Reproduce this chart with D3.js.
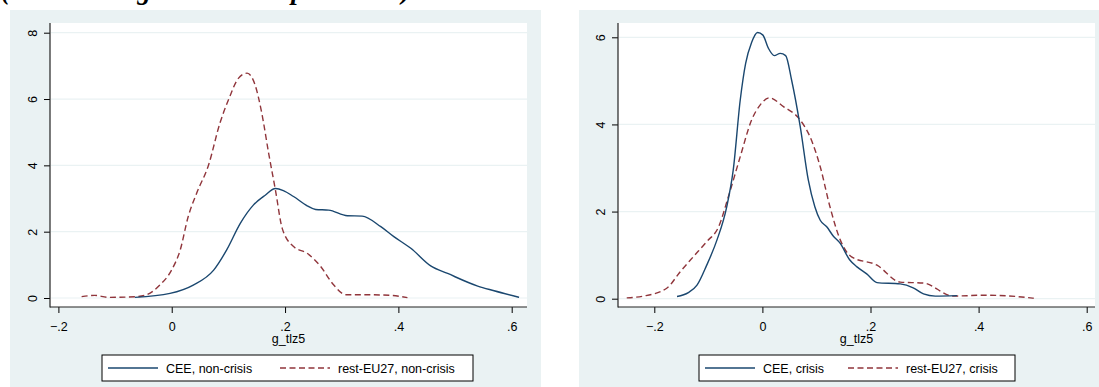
<!DOCTYPE html>
<html>
<head>
<meta charset="utf-8">
<script src="https://cdn.jsdelivr.net/npm/d3@7"></script>
<style>
  body { margin: 0; background: #fff; }
  svg { display: block; }
  text { font-family: "Liberation Sans", Arial, sans-serif; }
  text.caption { font-family: "Liberation Serif", "Times New Roman", serif; }
</style>
</head>
<body>
<main></main>
<script>
const w = 1099;
const h = 387;

// tick labels
const xTicks = [-0.2, 0, 0.2, 0.4, 0.6];
const yTicksLeft = [0, 2, 4, 6, 8];
const yTicksRight = [0, 2, 4, 6];
const xTitle = "g_tlz5";

// left panel: non-crisis
const leftCeeX = [-0.065, -0.003, 0.038, 0.074, 0.097, 0.121, 0.144, 0.165, 0.183, 0.197, 0.215, 0.239, 0.254, 0.277, 0.31, 0.336, 0.369, 0.392, 0.422, 0.457, 0.487, 0.54, 0.569, 0.613];
const leftCeeY = [0.02, 0.14, 0.39, 0.84, 1.45, 2.25, 2.8, 3.1, 3.3, 3.24, 3.06, 2.78, 2.67, 2.65, 2.48, 2.47, 2.15, 1.85, 1.5, 0.97, 0.74, 0.36, 0.22, 0.02];
const leftRestX = [-0.159, -0.136, -0.112, -0.062, -0.044, -0.021, 0.0, 0.015, 0.029, 0.044, 0.065, 0.085, 0.1, 0.118, 0.133, 0.147, 0.159, 0.171, 0.183, 0.195, 0.215, 0.239, 0.262, 0.286, 0.307, 0.333, 0.386, 0.416];
const leftRestY = [0.04, 0.08, 0.02, 0.04, 0.1, 0.39, 0.85, 1.45, 2.45, 3.16, 4.01, 5.27, 5.97, 6.63, 6.78, 6.43, 5.57, 4.37, 3.26, 2.1, 1.55, 1.35, 0.97, 0.39, 0.1, 0.1, 0.08, 0.01];

// right panel: crisis
const rightCeeX = [-0.158, -0.137, -0.121, -0.103, -0.084, -0.066, -0.054, -0.041, -0.031, -0.02, -0.009, 0.001, 0.011, 0.022, 0.033, 0.043, 0.054, 0.07, 0.085, 0.097, 0.107, 0.119, 0.131, 0.144, 0.161, 0.175, 0.193, 0.212, 0.255, 0.279, 0.298, 0.32, 0.36];
const rightCeeY = [0.05, 0.14, 0.31, 0.77, 1.35, 2.11, 2.95, 4.56, 5.4, 5.88, 6.11, 6.05, 5.75, 5.58, 5.63, 5.58, 5.02, 3.95, 2.72, 2.11, 1.8, 1.65, 1.44, 1.27, 0.9, 0.73, 0.57, 0.37, 0.34, 0.25, 0.11, 0.06, 0.07];
const rightRestX = [-0.251, -0.22, -0.177, -0.152, -0.128, -0.103, -0.081, -0.063, -0.041, -0.02, -0.004, 0.013, 0.039, 0.07, 0.088, 0.107, 0.125, 0.144, 0.165, 0.212, 0.255, 0.298, 0.353, 0.409, 0.47, 0.502];
const rightRestY = [0.02, 0.06, 0.24, 0.62, 0.96, 1.31, 1.65, 2.34, 3.26, 4.1, 4.45, 4.61, 4.41, 4.1, 3.72, 3.03, 2.11, 1.35, 0.96, 0.77, 0.38, 0.36, 0.06, 0.08, 0.05, 0.01];

const leftLabels = ["CEE, non-crisis", "rest-EU27, non-crisis"];
const rightLabels = ["CEE, crisis", "rest-EU27, crisis"];

const blue = "#1a476f";
const red = "#90353b";
const bg = "#eaf2f3";

const svg = d3.select("main")
    .append("svg")
    .attr("width", w)
    .attr("height", h);

// caption cut off at the top of the page (only descenders show)
svg.append("text")
    .attr("class", "caption")
    .attr("x", 1)
    .attr("y", -1)
    .attr("font-style", "italic")
    .attr("font-weight", "bold")
    .attr("font-size", 27)
    .text("(Real credit growth at the peak level)");

const fmtX = d => d === 0 ? "0" : d3.format(".1f")(d).replace("0.", ".");
const fmtY = d3.format("d");

function drawPanel(p) {
    const g = svg.append("g");

    g.append("rect")
        .attr("x", p.bx).attr("y", 10)
        .attr("width", p.bw).attr("height", h)
        .attr("fill", bg);

    g.append("rect")
        .attr("x", p.left).attr("y", 23)
        .attr("width", p.right - p.left).attr("height", 307 - 23)
        .attr("fill", "#fff");

    const xScale = d3.scaleLinear()
        .domain([-0.2, 0.6])
        .range([p.x0, p.x1]);

    const yScale = d3.scaleLinear()
        .domain([0, p.yMax])
        .range([p.y0, p.y1]);

    // grid
    g.selectAll(".grid")
        .data(p.yTicks)
        .enter()
        .append("line")
        .attr("x1", p.left + 1)
        .attr("x2", p.right)
        .attr("y1", d => yScale(d))
        .attr("y2", d => yScale(d))
        .attr("stroke", bg)
        .attr("stroke-width", 1.2);

    const line = d3.line()
        .x(d => xScale(d[0]))
        .y(d => yScale(d[1]))
        .curve(d3.curveMonotoneX);

    g.append("path")
        .datum(d3.zip(p.restX, p.restY))
        .attr("d", line)
        .attr("fill", "none")
        .attr("stroke", red)
        .attr("stroke-width", 1.4)
        .attr("stroke-dasharray", "6,3.5");

    g.append("path")
        .datum(d3.zip(p.ceeX, p.ceeY))
        .attr("d", line)
        .attr("fill", "none")
        .attr("stroke", blue)
        .attr("stroke-width", 1.4);

    // axes
    const xAxis = d3.axisBottom(xScale)
        .tickValues(xTicks)
        .tickFormat(fmtX)
        .tickSize(6)
        .tickPadding(9)
        .tickSizeOuter(0);

    const xg = g.append("g")
        .attr("transform", "translate(0," + 307 + ")")
        .call(xAxis);
    xg.select(".domain").remove();
    xg.selectAll("text").attr("font-size", 12.5).attr("fill", "#000");

    const yAxis = d3.axisLeft(yScale)
        .tickValues(p.yTicks)
        .tickFormat(fmtY)
        .tickSize(6)
        .tickSizeOuter(0);

    const yg = g.append("g")
        .attr("transform", "translate(" + p.left + ",0)")
        .call(yAxis);
    yg.select(".domain").remove();
    yg.selectAll("text")
        .attr("x", null).attr("dy", null)
        .attr("text-anchor", "middle")
        .attr("transform", "translate(-13,0) rotate(-90)")
        .attr("font-size", 12.5)
        .attr("fill", "#000");

    g.append("line")
        .attr("x1", p.left).attr("x2", p.left)
        .attr("y1", 23).attr("y2", 307.5)
        .attr("stroke", "#222").attr("stroke-width", 1.2);
    g.append("line")
        .attr("x1", p.left).attr("x2", p.right)
        .attr("y1", 307).attr("y2", 307)
        .attr("stroke", "#222").attr("stroke-width", 1.2);

    g.append("text")
        .attr("x", (p.left + p.right) / 2)
        .attr("y", 343)
        .attr("text-anchor", "middle")
        .attr("font-size", 12.5)
        .text(xTitle);

    // legend
    const lg = g.append("g");
    lg.append("rect")
        .attr("x", p.lx).attr("y", 355)
        .attr("width", p.lw).attr("height", 26)
        .attr("fill", "#fff")
        .attr("stroke", "#000")
        .attr("stroke-width", 1);

    const items = [
        { label: p.labels[0], color: blue, dash: null, x: p.lx + 6 },
        { label: p.labels[1], color: red, dash: "6,3.5", x: p.lx + p.l2 }
    ];
    items.forEach(it => {
        lg.append("line")
            .attr("x1", it.x).attr("x2", it.x + 50)
            .attr("y1", 368).attr("y2", 368)
            .attr("stroke", it.color)
            .attr("stroke-width", 1.4)
            .attr("stroke-dasharray", it.dash);
        lg.append("text")
            .attr("x", it.x + 58)
            .attr("y", 372.5)
            .attr("font-size", 12.5)
            .text(it.label);
    });
}

drawPanel({
    bx: 10, bw: 531, left: 50, right: 527,
    x0: 58.4, x1: 511.7, y0: 298, y1: 32.7, yMax: 8,
    yTicks: yTicksLeft,
    ceeX: leftCeeX, ceeY: leftCeeY, restX: leftRestX, restY: leftRestY,
    labels: leftLabels, lx: 102, lw: 371, l2: 178
});

drawPanel({
    bx: 579, bw: 520, left: 618, right: 1095,
    x0: 654.3, x1: 1086.7, y0: 298.7, y1: 37.3, yMax: 6,
    yTicks: yTicksRight,
    ceeX: rightCeeX, ceeY: rightCeeY, restX: rightRestX, restY: rightRestY,
    labels: rightLabels, lx: 699, lw: 316, l2: 149
});
</script>
</body>
</html>
